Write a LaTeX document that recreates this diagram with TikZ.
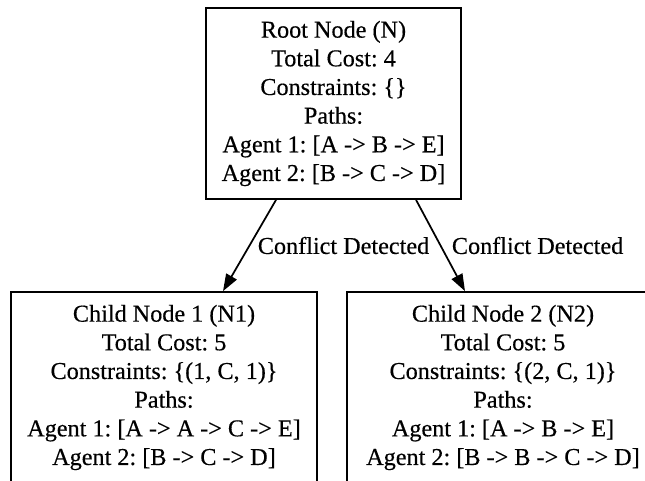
\documentclass[tikz,border=0pt]{standalone}
\usepackage{fontspec}
\setmainfont{Liberation Serif}[FakeBold=0.4]
\usetikzlibrary{arrows.meta}
\frenchspacing
\begin{document}
\begin{tikzpicture}[x=0.75pt,y=-0.75pt,
  treenode/.style={draw, line width=1.3pt, align=center, inner sep=0pt,
    font=\fontsize{18.15pt}{21.5pt}\selectfont, minimum height=143.25pt},
  branch/.style={draw, line width=1.3pt, -{Triangle[length=12.75pt,width=9pt]}},
  edgelabel/.style={font=\fontsize{18.15pt}{21.5pt}\selectfont, inner sep=0pt, anchor=west}]
\useasboundingbox (0,0) rectangle (645,480);
\clip (0,0) rectangle (645,480);

% search-tree nodes
\node[treenode, minimum width=191.25pt] (root) at (333.5,103.5)
  {Root Node (N)\\Total Cost: 4\\Constraints: \{\}\\Paths:\\Agent 1: [A -> B -> E]\\Agent 2: [B -> C -> D]};

\node[treenode, minimum width=229.5pt] (c1) at (164,387.5)
  {Child Node 1 (N1)\\Total Cost: 5\\Constraints: \{(1, C, 1)\}\\Paths:\\Agent 1: [A -> A -> C -> E]\\Agent 2: [B -> C -> D]};

\node[treenode, minimum width=234pt] (c2) at (503,387.5)
  {Child Node 2 (N2)\\Total Cost: 5\\Constraints: \{(2, C, 1)\}\\Paths:\\Agent 1: [A -> B -> E]\\Agent 2: [B -> B -> C -> D]};

% branching edges
\draw[branch] ([xshift=-43.1pt]root.south) -- ([xshift=44.25pt]c1.north)
  node[edgelabel, pos=0.5, xshift=5.6pt] (l1) {Conflict Detected};
\draw[branch] ([xshift=61.9pt]root.south) -- ([xshift=-28.5pt]c2.north)
  node[edgelabel, pos=0.5, xshift=7.9pt] (l2) {Conflict Detected};
\end{tikzpicture}
\end{document}
